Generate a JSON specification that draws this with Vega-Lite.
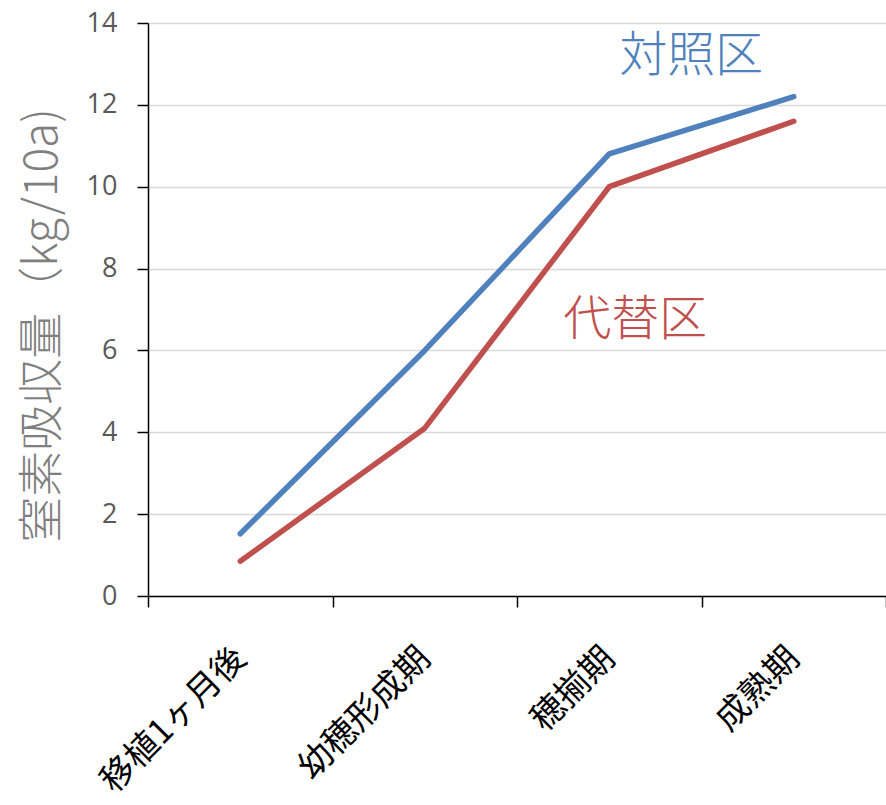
{
  "$schema": "https://vega.github.io/schema/vega-lite/v6.json",
  "autosize": {"type": "none"},
  "width": 738,
  "height": 573,
  "padding": {"left": 148, "top": 23, "right": 0, "bottom": 205},
  "background": "white",
  "config": {"view": {"stroke": null}},
  "datasets": {
    "series": [
      {"stage": "移植1ヶ月後", "group": "対照区", "n": 1.52},
      {"stage": "幼穂形成期", "group": "対照区", "n": 6.0},
      {"stage": "穂揃期", "group": "対照区", "n": 10.8},
      {"stage": "成熟期", "group": "対照区", "n": 12.2},
      {"stage": "移植1ヶ月後", "group": "代替区", "n": 0.85},
      {"stage": "幼穂形成期", "group": "代替区", "n": 4.1},
      {"stage": "穂揃期", "group": "代替区", "n": 10.0},
      {"stage": "成熟期", "group": "代替区", "n": 11.6}
    ],
    "labels": [
      {"stage": "穂揃期", "group": "対照区", "n": 13.17},
      {"stage": "穂揃期", "group": "代替区", "n": 6.72}
    ]
  },
  "encoding": {
    "x": {
      "field": "stage",
      "type": "nominal",
      "sort": ["移植1ヶ月後", "幼穂形成期", "穂揃期", "成熟期"],
      "scale": {"type": "band", "paddingInner": 0, "paddingOuter": 0, "domain": ["移植1ヶ月後", "幼穂形成期", "穂揃期", "成熟期"]},
      "axis": {
        "title": null,
        "tickBand": "extent",
        "labelAngle": -45,
        "labelAlign": "right",
        "labelBaseline": "middle",
        "labelFont": "Noto Sans CJK JP",
        "labelFontSize": 34,
        "labelLimit": 500,
        "labelColor": "#000000",
        "labelPadding": 46,
        "tickSize": 11,
        "tickColor": "#000000",
        "tickWidth": 1.5,
        "domainColor": "#000000",
        "domainWidth": 1.5,
        "grid": false
      }
    },
    "y": {
      "field": "n",
      "type": "quantitative",
      "scale": {"domain": [0, 14], "nice": false, "zero": true},
      "axis": {
        "title": "窒素吸収量（kg/10a)",
        "titleFont": "Noto Sans CJK JP",
        "titleFontWeight": 300,
        "titleFontSize": 46,
        "titleColor": "#7f7f7f",
        "titlePadding": 20,
        "titleY": 302,
        "values": [0, 2, 4, 6, 8, 10, 12, 14],
        "labelFont": "Open Sans",
        "labelFontSize": 27,
        "labelColor": "#595959",
        "labelPadding": 20,
        "tickSize": 11,
        "tickColor": "#000000",
        "tickWidth": 1.5,
        "domainColor": "#000000",
        "domainWidth": 1.5,
        "grid": true,
        "gridColor": "#d9d9d9",
        "gridWidth": 1.5
      }
    }
  },
  "layer": [
    {
      "data": {"name": "series"},
      "mark": {"type": "line", "strokeWidth": 5.5, "strokeCap": "round", "strokeJoin": "round"},
      "encoding": {
        "color": {
          "field": "group",
          "type": "nominal",
          "scale": {"domain": ["対照区", "代替区"], "range": ["#4F81BD", "#C0504D"]},
          "legend": null
        },
        "detail": {"field": "group"}
      }
    },
    {
      "data": {"name": "labels"},
      "transform": [{"filter": "datum.group === '対照区'"}],
      "mark": {"type": "text", "font": "Noto Sans CJK JP", "fontWeight": 300, "fontSize": 48, "baseline": "middle", "align": "center", "dx": 82, "color": "#4F81BD"},
      "encoding": {"text": {"field": "group"}}
    },
    {
      "data": {"name": "labels"},
      "transform": [{"filter": "datum.group === '代替区'"}],
      "mark": {"type": "text", "font": "Noto Sans CJK JP", "fontWeight": 300, "fontSize": 48, "baseline": "middle", "align": "center", "dx": 26, "color": "#C0504D"},
      "encoding": {"text": {"field": "group"}}
    }
  ]
}
